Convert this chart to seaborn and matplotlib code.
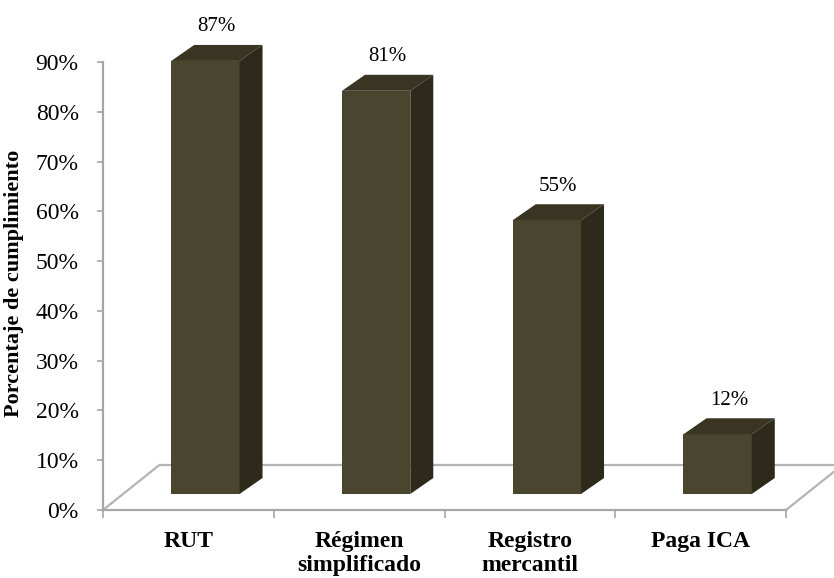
import matplotlib
matplotlib.use("Agg")
import matplotlib.pyplot as plt
import seaborn as sns
import pandas as pd
from matplotlib.patches import Polygon
from matplotlib.ticker import FixedLocator, PercentFormatter

# Data
categorias = ["RUT", "Régimen\nsimplificado", "Registro\nmercantil", "Paga ICA"]
cumplimiento = [87, 81, 55, 12]
marcas_eje = [0, 10, 20, 30, 40, 50, 60, 70, 80, 90]

# Colours of the 3D columns
FRENTE = "#4A452E"
TAPA = "#3A3423"
LADO = "#2D2A1C"
GRIS = "#A6A6A6"

sns.set_theme(style="white")
plt.rcParams["font.family"] = ["Liberation Serif", "DejaVu Serif"]

W, H = 834, 578
fig = plt.figure(figsize=(W / 100, H / 100), dpi=100)
ax = fig.add_axes([103 / W, 68 / H, 683 / W, 448 / H])

df = pd.DataFrame({"requisito": categorias, "pct": cumplimiento})
sns.barplot(data=df, x="requisito", y="pct", color=FRENTE, saturation=1,
            width=0.4, errorbar=None, linewidth=0, ax=ax, zorder=3)

ax.set_xlim(-0.5, len(categorias) - 0.5)
ax.set_ylim(0, 90)

# Pseudo-3D geometry (data units): floor depth and column depth
px_x = 683 / len(categorias)      # pixels per category
px_y = 448 / 90                   # pixels per percent
piso_dx, piso_dy = 57 / px_x, 45.5 / px_y
col_dx, col_dy = 23 / px_x, 16 / px_y
base = 16 / px_y                  # columns stand in the middle of the floor
desplaz = piso_dx / 2 - col_dx / 2

# Floor outline (behind the columns)
x0, x1 = -0.5, len(categorias) - 0.5
floor_kw = dict(color="#B4B4B4", lw=1.6, zorder=1, clip_on=False,
                solid_capstyle="butt")
ax.plot([x0 + piso_dx, x1 + piso_dx], [piso_dy, piso_dy], **floor_kw)
ax.plot([x0, x0 + piso_dx], [0, piso_dy], **floor_kw)
ax.plot([x1, x1 + piso_dx], [0, piso_dy], **floor_kw)

# Move each front face onto the floor and add its top and side faces
for p, v in zip(ax.patches, cumplimiento):
    p.set_x(p.get_x() + desplaz)
    p.set_y(base)
    p.set_clip_on(False)
    bx, bw, bh = p.get_x(), p.get_width(), p.get_height()
    top = base + bh
    ax.add_patch(Polygon([(bx, top), (bx + bw, top),
                          (bx + bw + col_dx, top + col_dy),
                          (bx + col_dx, top + col_dy)],
                         closed=True, facecolor=TAPA, edgecolor="none",
                         zorder=3, clip_on=False))
    ax.add_patch(Polygon([(bx + bw, base), (bx + bw + col_dx, base + col_dy),
                          (bx + bw + col_dx, top + col_dy), (bx + bw, top)],
                         closed=True, facecolor=LADO, edgecolor="none",
                         zorder=3, clip_on=False))
    ax.annotate(f"{v}%", xy=(bx + bw / 2 + col_dx * 0.5, top + col_dy),
                xytext=(0, 13), textcoords="offset points",
                ha="center", va="center", fontsize=15, color="black",
                annotation_clip=False)

# Axes styling
for s in ("top", "right"):
    ax.spines[s].set_visible(False)
for s in ("left", "bottom"):
    ax.spines[s].set_color(GRIS)
    ax.spines[s].set_linewidth(1.6)
    ax.spines[s].set_zorder(2)

ax.yaxis.set_major_locator(FixedLocator(marcas_eje))
ax.yaxis.set_major_formatter(PercentFormatter(decimals=0))
ax.tick_params(axis="y", direction="out", length=4.5, width=1.2, color=GRIS,
               pad=13, labelsize=17, labelcolor="black", left=True)

ax.xaxis.set_minor_locator(FixedLocator([i - 0.5 for i in range(len(categorias) + 1)]))
ax.tick_params(axis="x", which="major", length=0, pad=15, labelsize=17,
               labelcolor="black")
ax.tick_params(axis="x", which="minor", direction="out", length=5.5,
               width=1.2, color=GRIS, bottom=True)
for t in ax.get_xticklabels():
    t.set_fontweight("bold")
    t.set_linespacing(1.2)

ax.set_xlabel("")
ax.set_ylabel("Porcentaje de cumplimiento", fontsize=16, fontweight="bold",
              color="black")
ax.yaxis.set_label_coords(-0.115, 0.505)
ax.grid(False)

fig.savefig("out.png", dpi=100, facecolor="white")
